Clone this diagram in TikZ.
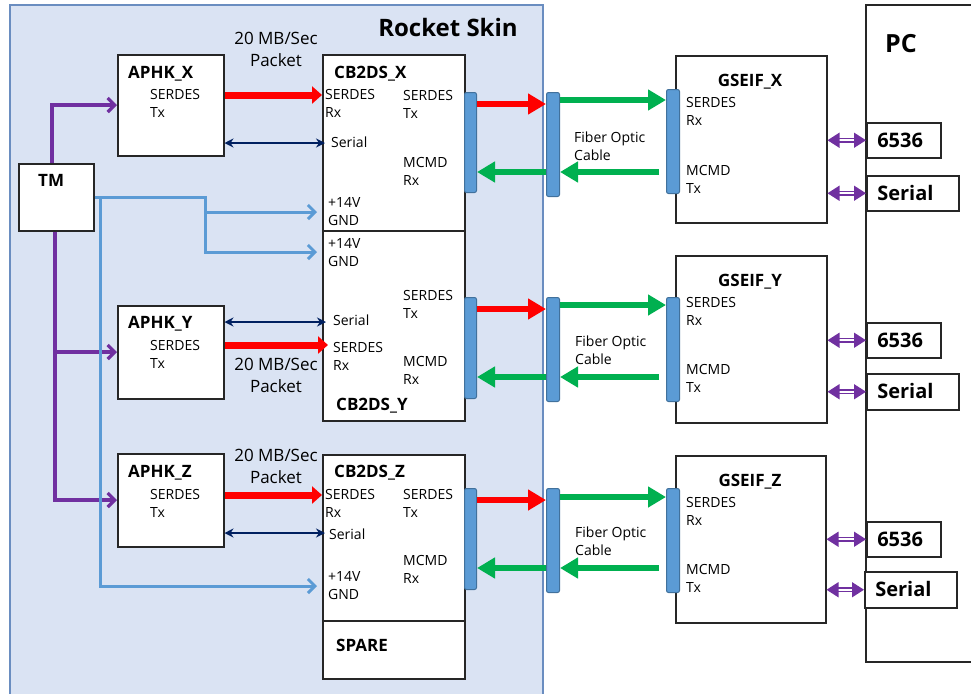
\documentclass[tikz,border=0pt]{standalone}
\usepackage{fontspec}
\setmainfont{Open Sans}
\usepackage{xcolor}
\usetikzlibrary{arrows.meta,positioning}

\definecolor{skinfill}{HTML}{DAE3F3}
\definecolor{skinedge}{HTML}{6A8DC0}
\definecolor{barfill}{HTML}{5B9BD5}
\definecolor{barline}{HTML}{41719C}
\definecolor{optgreen}{HTML}{00B050}
\definecolor{serialnavy}{HTML}{002060}
\definecolor{tmpurple}{HTML}{7030A0}
\definecolor{pwrblue}{HTML}{5B9BD5}

\begin{document}
\begin{tikzpicture}[x=1pt, y=-1pt,
  blk/.style={draw=black!85, line width=1.5pt, fill=white, inner sep=0pt, anchor=north west},
  ttl/.style={font=\fontsize{17}{20}\selectfont\bfseries, inner sep=0pt, anchor=west,
              text height=12pt, text depth=0pt},
  lbl/.style={font=\fontsize{14}{18}\selectfont, align=left, inner sep=0pt, anchor=west},
  rate/.style={font=\fontsize{17}{22}\selectfont, align=center, inner sep=0pt},
  port/.style={draw=barline, fill=barfill, line width=1pt, rounded corners=2pt,
               minimum width=12pt, inner sep=0pt, anchor=north west},
  pcbox/.style={draw=black!85, line width=1.5pt, fill=white, anchor=north west,
                minimum height=35pt, inner xsep=10.5pt, inner ysep=0pt, align=left,
                font=\fontsize{20}{24}\selectfont\bfseries, text height=14pt, text depth=0pt},
  fast/.style={draw=red, line width=7pt, -{Triangle[length=10pt,width=17pt]}},
  optic/.style={line width=6.5pt, -{Triangle[length=18pt,width=20pt]}},
  ser/.style={draw=serialnavy, line width=2.6pt,
              {Stealth[length=9pt,width=9pt]}-{Stealth[length=9pt,width=9pt]}},
  ctl/.style={draw=tmpurple, line width=3.2pt, -{Straight Barb[length=7pt,width=14pt]}},
  pwr/.style={draw=pwrblue, line width=3pt, -{Straight Barb[length=7pt,width=14pt]}, shorten >=5pt},
  pclink/.style={draw=tmpurple, double=white, line width=1.4pt, double distance=1.8pt,
                 {Triangle[length=12pt,width=15pt]}-{Triangle[length=12pt,width=15pt]}},
]
\useasboundingbox (0,0) rectangle (971,694);

% rocket skin and PC
\fill[skinfill] (10,5) rectangle (543,694);
\draw[skinedge, line width=1.2pt] (10,694) -- (10,5) -- (543,5) -- (543,694);
\node[font=\fontsize{24}{28}\selectfont\bfseries, inner sep=0pt] (skin) at (448,27) {Rocket Skin};
\draw[black!85, line width=1.5pt] (971,5) -- (866,5) -- (866,662) -- (971,662);
\node[font=\fontsize{25}{30}\selectfont\bfseries, inner sep=0pt] (pc) at (901,44) {PC};

% TM and APHK boxes
\node[blk, minimum width=75pt, minimum height=67pt] (tm) at (18,163) {};
\node[ttl] (tmlbl) at (38,180) {TM};

\node[blk, minimum width=106pt, minimum height=101pt] (aphkx) at (117,54) {};
\node[ttl] (aphkxlbl) at (128,72) {APHK\_X};
\node[lbl] (aphkxtx) at (150,103) {SERDES\\Tx};
\node[blk, minimum width=106pt, minimum height=93pt] (aphky) at (117,305) {};
\node[ttl] (aphkylbl) at (128,322) {APHK\_Y};
\node[lbl] (aphkytx) at (150,354) {SERDES\\Tx};
\node[blk, minimum width=106pt, minimum height=93pt] (aphkz) at (117,453) {};
\node[ttl] (aphkzlbl) at (128,471) {APHK\_Z};
\node[lbl] (aphkztx) at (150,503) {SERDES\\Tx};

% CB2DS boxes
\node[blk, minimum width=142pt, minimum height=176pt] (cbx) at (322,54) {};
\node[ttl] (cbxlbl) at (334,72) {CB2DS\_X};
\node[lbl] (cbxrx) at (325,103) {SERDES\\Rx};
\node[lbl] (cbxtx) at (403,104) {SERDES\\Tx};
\node[lbl] (cbxser) at (331,142) {Serial};
\node[lbl] (cbxmc) at (403,171) {MCMD\\Rx};
\node[lbl] (cbxpw) at (328,212) {+14V\\GND};

\node[blk, minimum width=142pt, minimum height=190pt] (cby) at (322,230) {};
\node[lbl] (cbypw) at (328,253) {+14V\\GND};
\node[lbl] (cbytx) at (403,304) {SERDES\\Tx};
\node[lbl] (cbyser) at (333,320) {Serial};
\node[lbl] (cbyrx) at (333,356) {SERDES\\Rx};
\node[lbl] (cbymc) at (403,370) {MCMD\\Rx};
\node[ttl] (cbylbl) at (336,404) {CB2DS\_Y};

\node[blk, minimum width=142pt, minimum height=166pt] (cbz) at (322,454) {};
\node[ttl] (cbzlbl) at (334,471) {CB2DS\_Z};
\node[lbl] (cbzrx) at (325,503) {SERDES\\Rx};
\node[lbl] (cbztx) at (403,503) {SERDES\\Tx};
\node[lbl] (cbzser) at (329,534) {Serial};
\node[lbl] (cbzmc) at (403,569) {MCMD\\Rx};
\node[lbl] (cbzpw) at (328,586) {+14V\\GND};
\node[blk, minimum width=142pt, minimum height=58pt] (spare) at (322,620) {};
\node[ttl] (sparelbl) at (336,645) {SPARE};

% GSEIF boxes
\node[blk, minimum width=151pt, minimum height=167pt] (gsx) at (675,55) {};
\node[ttl, anchor=center] (gsxlbl) at (750,80) {GSEIF\_X};
\node[lbl] (gsxrx) at (686,111) {SERDES\\Rx};
\node[lbl] (gsxtx) at (686,179) {MCMD\\Tx};
\node[blk, minimum width=151pt, minimum height=167pt] (gsy) at (675,255) {};
\node[ttl, anchor=center] (gsylbl) at (750,280) {GSEIF\_Y};
\node[lbl] (gsyrx) at (686,311) {SERDES\\Rx};
\node[lbl] (gsytx) at (686,378) {MCMD\\Tx};
\node[blk, minimum width=150pt, minimum height=167pt] (gsz) at (675,455) {};
\node[ttl, anchor=center] (gszlbl) at (750,480) {GSEIF\_Z};
\node[lbl] (gszrx) at (686,511) {SERDES\\Rx};
\node[lbl] (gsztx) at (686,578) {MCMD\\Tx};

% connector bars
\node[port, minimum height=100pt] (cbxport) at (464,92) {};
\node[port, minimum height=104pt, minimum width=13pt] (fibx) at (546,92) {};
\node[port, minimum height=104pt, minimum width=13pt] (gsxport) at (666,89) {};
\node[port, minimum height=101pt] (cbyport) at (464,297) {};
\node[port, minimum height=104pt, minimum width=13pt] (fiby) at (546,297) {};
\node[port, minimum height=104pt, minimum width=13pt] (gsyport) at (666,297) {};
\node[port, minimum height=101pt] (cbzport) at (464,488) {};
\node[port, minimum height=104pt, minimum width=13pt] (fibz) at (546,488) {};
\node[port, minimum height=104pt, minimum width=13pt] (gszport) at (666,488) {};
\node[lbl] (fibxlbl) at (574,146) {Fiber Optic\\Cable};
\node[lbl] (fibylbl) at (575,350) {Fiber Optic\\Cable};
\node[lbl] (fibzlbl) at (575,541) {Fiber Optic\\Cable};

% PC ports
\node[pcbox, text width=53pt] (x6536) at (866,122) {6536};
\node[pcbox, text width=71pt] (xserial) at (866,175) {Serial};
\node[pcbox, text width=53pt] (y6536) at (866,322) {6536};
\node[pcbox, text width=71pt, minimum height=36pt] (yserial) at (866,373) {Serial};
\node[pcbox, text width=53pt] (z6536) at (866,521) {6536};
\node[pcbox, text width=71pt, minimum height=36pt] (zserial) at (864,571) {Serial};

% TM lines
\coordinate (tmy) at (55,352);
\coordinate (pwrsplit) at (205,212);
\draw[ctl] (tm.north -| 52,0) |- (aphkx.west |- 0,105);
\draw[ctl] (tm.south -| 55,0) |- (aphkz.west |- 0,500);
\draw[ctl] (tmy) -- (aphky.west |- tmy);
\draw[pwr] (tm.east |- 0,197) -| (205,252) -- (cby.west |- 0,252);
\draw[pwr] (pwrsplit) -- (cbx.west |- pwrsplit);
\draw[pwr] (100,197) |- (cbz.west |- 0,586);

% APHK to CB2DS
\draw[fast] (aphkx.east |- 0,95) -- (cbx.west |- 0,95);
\draw[ser, shorten >=-3pt] (aphkx.east |- 0,143) -- (cbx.west |- 0,143);
\node[rate] (ratex) at (276,49) {20 MB/Sec\\Packet};
\draw[ser, shorten >=-4pt] (aphky.east |- 0,322) -- (cby.west |- 0,322);
\draw[fast, shorten >=-6pt] (aphky.east |- 0,345) -- (cby.west |- 0,345);
\node[rate] (ratey) at (276,375) {20 MB/Sec\\Packet};
\draw[fast] (aphkz.east |- 0,495) -- (cbz.west |- 0,495);
\draw[ser, shorten >=-3pt] (aphkz.east |- 0,533) -- (cbz.west |- 0,533);
\node[rate] (ratez) at (276,466) {20 MB/Sec\\Packet};

% fiber links
\draw[optic, red] (cbxport.east |- 0,104) -- (fibx.west |- 0,104);
\draw[optic, optgreen] (fibx.east |- 0,100) -- (gsxport.west |- 0,100);
\draw[optic, optgreen, shorten <=7pt] (gsxport.west |- 0,172) -- (fibx.east |- 0,172);
\draw[optic, optgreen] (fibx.west |- 0,172) -- (cbxport.east |- 0,172);
\draw[optic, red] (cbyport.east |- 0,309) -- (fiby.west |- 0,309);
\draw[optic, optgreen] (fiby.east |- 0,305) -- (gsyport.west |- 0,305);
\draw[optic, optgreen, shorten <=7pt] (gsyport.west |- 0,377) -- (fiby.east |- 0,377);
\draw[optic, optgreen] (fiby.west |- 0,377) -- (cbyport.east |- 0,377);
\draw[optic, red] (cbzport.east |- 0,500) -- (fibz.west |- 0,500);
\draw[optic, optgreen] (fibz.east |- 0,497) -- (gszport.west |- 0,497);
\draw[optic, optgreen, shorten <=7pt] (gszport.west |- 0,568) -- (fibz.east |- 0,568);
\draw[optic, optgreen] (fibz.west |- 0,568) -- (cbzport.east |- 0,568);

% GSEIF to PC
\draw[pclink] (gsx.east |- x6536.west) -- (x6536.west);
\draw[pclink] (gsx.east |- xserial.west) -- (xserial.west);
\draw[pclink] (gsy.east |- y6536.west) -- (y6536.west);
\draw[pclink] (gsy.east |- yserial.west) -- (yserial.west);
\draw[pclink] (gsz.east |- z6536.west) -- (z6536.west);
\draw[pclink] (gsz.east |- zserial.west) -- (zserial.west);
\end{tikzpicture}
\end{document}
